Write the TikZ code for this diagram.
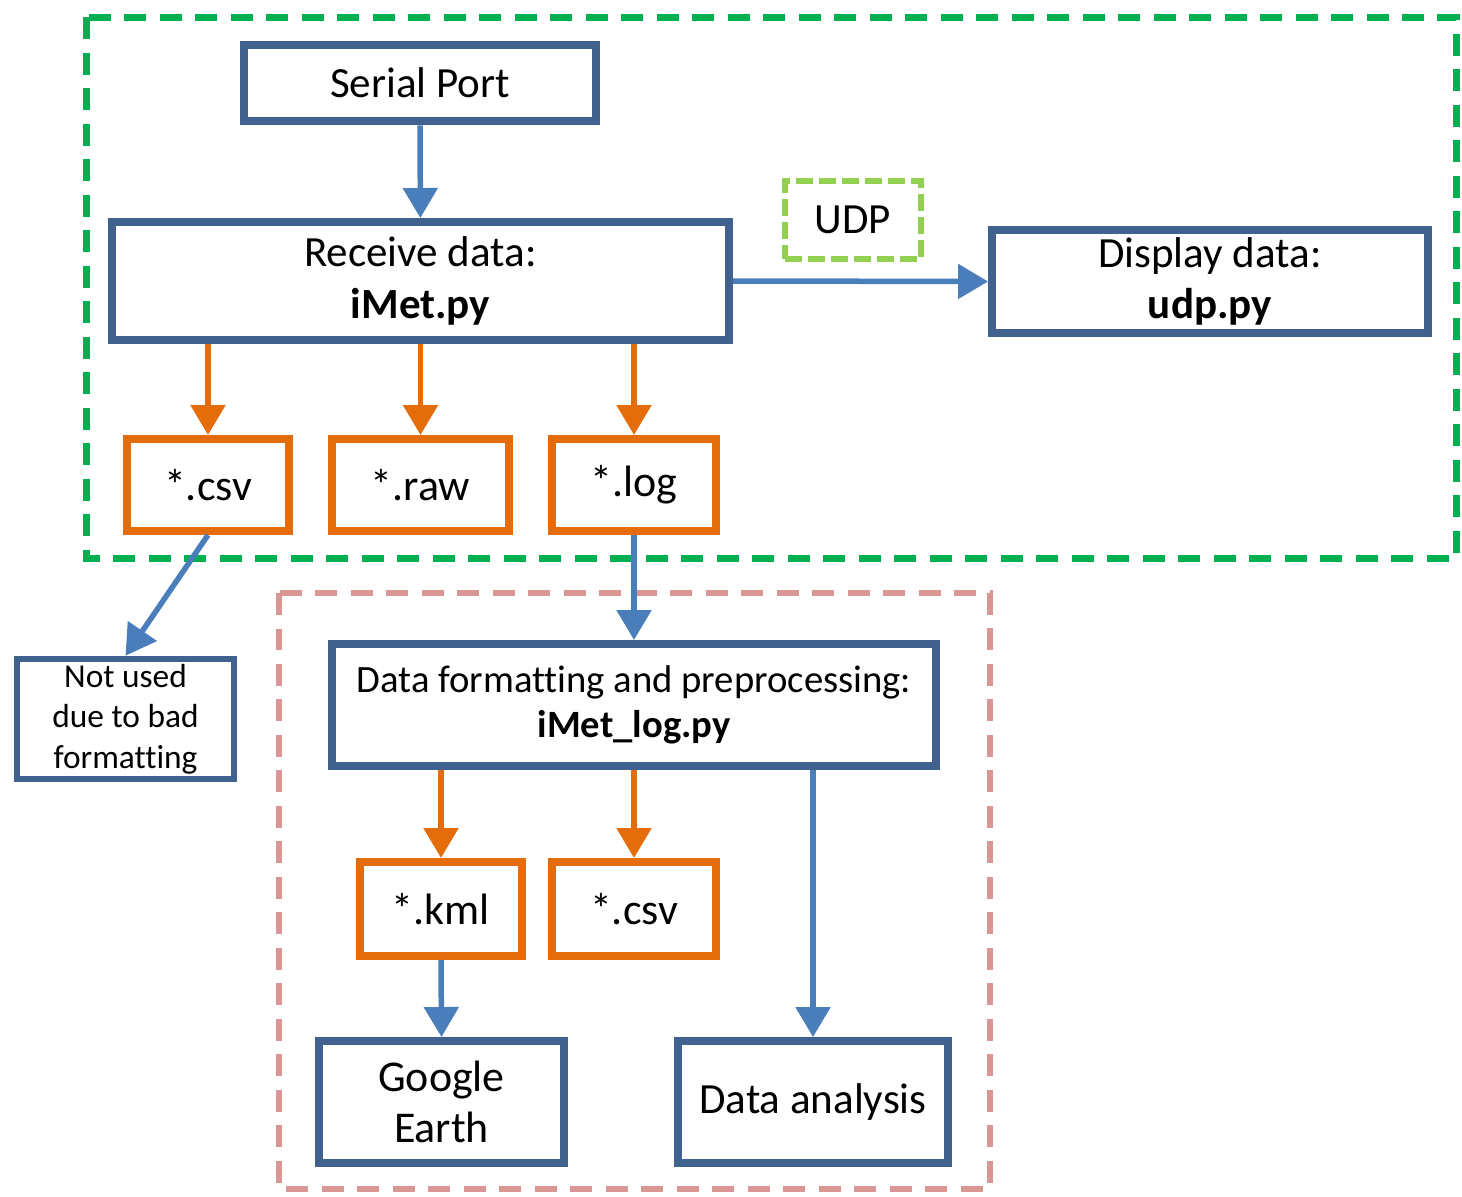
\documentclass[tikz,border=0pt]{standalone}
\usepackage{fontspec}
\setmainfont[Ligatures=NoCommon]{Carlito}
\usepackage{tikz}
\usetikzlibrary{arrows.meta,positioning,calc}
\definecolor{cBox}{HTML}{41618F}
\definecolor{cArr}{HTML}{4A7EBB}
\definecolor{cOr}{HTML}{E46C0A}
\definecolor{cGrn}{HTML}{00B050}
\definecolor{cLime}{HTML}{92D050}
\definecolor{cPink}{HTML}{D99694}
\tikzset{
  box/.style ={draw=cBox,line width=0.16cm,fill=white,align=center,inner sep=0pt,
               font=\fontsize{24.5}{29.5}\selectfont},
  obox/.style={box,draw=cOr,font=\fontsize{25}{30}\selectfont},
  ar/.style  ={-{Triangle[width=0.68cm,length=0.6cm]},line width=0.11cm,cArr},
  oar/.style ={ar,cOr},
  grp/.style ={line width=0.14cm,dash pattern=on 0.44cm off 0.27cm},
}
\begin{document}
\begin{tikzpicture}[x=0.02cm,y=-0.02cm]
\useasboundingbox (0,0) rectangle (1462,1196);
% group frames
\draw[grp,cGrn] (86.5,17.5) rectangle (1456.5,558.5);
\draw[grp,cPink,line width=0.12cm] (279,593) rectangle (990,1189);
% acquisition
\node[box,minimum width=7.04cm,minimum height=1.54cm] (sp) at (420,83) {Serial Port};
\node[box,minimum width=12.34cm,minimum height=2.36cm] (rx) at (420.5,281) {Receive data:\\ \textbf{iMet.py}};
\node[box,minimum width=8.72cm,minimum height=2.06cm] (disp) at (1210,281.5) {Display data:\\ \textbf{udp.py}};
\node[box,draw=cLime,line width=0.12cm,dash pattern=on 0.34cm off 0.12cm,
      minimum width=2.72cm,minimum height=1.56cm] (udp) at (853,220) {UDP};
\node[obox,minimum width=3.24cm,minimum height=1.84cm] (csv) at (208,485) {*.csv};
\node[obox,minimum width=3.54cm,minimum height=1.84cm] (raw) at (420.5,485) {*.raw};
\node[obox,minimum width=3.28cm,minimum height=1.84cm] (log) at (634,485) {*.log};
\node[box,line width=0.13cm,minimum width=4.34cm,minimum height=2.4cm,
      font=\fontsize{19}{23}\selectfont] (nu) at (125.5,719) {Not used\\ due to bad\\ formatting};
% post-processing
\node[box,minimum width=12.08cm,minimum height=2.44cm,
      font=\fontsize{22}{26}\selectfont] (fmt) at (634,705) {Data formatting and preprocessing:\\ \textbf{iMet\_log.py}};
\node[obox,minimum width=3.24cm,minimum height=1.88cm] (kml) at (441,909) {*.kml};
\node[obox,minimum width=3.28cm,minimum height=1.88cm] (csvb) at (634,909) {*.csv};
\node[box,minimum width=4.9cm,minimum height=2.44cm,
      font=\fontsize{25}{29}\selectfont] (ge) at (441.5,1102) {Google\\ Earth};
\node[box,minimum width=5.4cm,minimum height=2.44cm] (ana) at (813,1102) {Data analysis};
% connectors
\draw[ar] (sp) -- (rx);
\draw[ar] (rx.east) -- (disp.west);
\foreach \f in {csv,raw,log}
  \draw[oar] (\f.north |- rx.south) -- (\f.north);
\draw[ar] (csv.south) -- (nu.north);
\draw[ar] (log.south) -- (fmt.north);
\foreach \f in {kml,csvb}
  \draw[oar] (\f.north |- fmt.south) -- (\f.north);
\draw[ar] (kml.south) -- (ge.north);
\draw[ar] (ana.north |- fmt.south) -- (ana.north);
\end{tikzpicture}
\end{document}
